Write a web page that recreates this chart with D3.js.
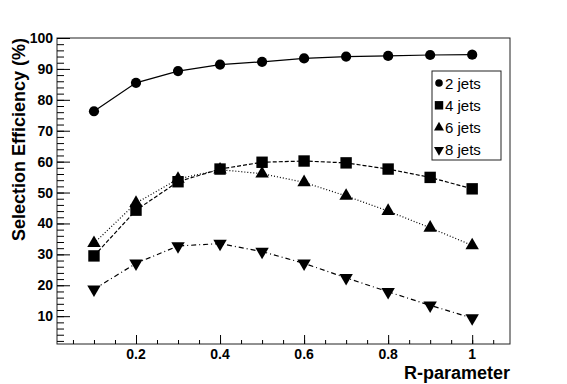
<!DOCTYPE html>
<html>
<head>
<meta charset="utf-8">
<script src="https://cdn.jsdelivr.net/npm/d3@7"></script>
<style>
  body { margin: 0; background: #fff; }
  text { font-family: "Liberation Sans", Arial, sans-serif; }
</style>
</head>
<body>
<svg width="567" height="384"></svg>
<script>
// R-parameter values and efficiencies per jet multiplicity
var rValues = [0.1, 0.2, 0.3, 0.4, 0.5, 0.6, 0.7, 0.8, 0.9, 1.0];
var jets2 = [76.3, 85.5, 89.3, 91.4, 92.3, 93.4, 94.0, 94.2, 94.5, 94.6];
var jets4 = [29.5, 44.3, 53.5, 57.6, 59.8, 60.2, 59.6, 57.6, 54.9, 51.2];
var jets6 = [33.6, 46.6, 54.4, 57.4, 56.1, 53.3, 48.9, 44.0, 38.6, 32.9];
var jets8 = [18.7, 27.1, 32.7, 33.5, 30.9, 27.1, 22.4, 17.9, 13.5, 9.4];
var seriesNames = ["2 jets", "4 jets", "6 jets", "8 jets"];
var xTicks = [0.2, 0.4, 0.6, 0.8, 1];
var yTicks = [10, 20, 30, 40, 50, 60, 70, 80, 90, 100];

var svg = d3.select("svg");
var padL = 57, padR = 510, padT = 38, padB = 344;

var x = d3.scaleLinear().domain([0.012, 1.09]).range([padL, padR]);
var y = d3.scaleLinear().domain([1, 100]).range([padB, padT]);

var series = [
  { name: seriesNames[0], values: jets2, symbol: d3.symbolCircle, size: 82, dash: null },
  { name: seriesNames[1], values: jets4, symbol: d3.symbolSquare, size: 130, dash: "4,2" },
  { name: seriesNames[2], values: jets6, symbol: d3.symbolTriangle, size: 78, dash: "1,2" },
  { name: seriesNames[3], values: jets8, symbol: d3.symbolTriangle, size: 78, dash: "5,3,1,3", flip: true }
];

// frame
svg.append("rect")
  .attr("x", padL).attr("y", padT)
  .attr("width", padR - padL).attr("height", padB - padT)
  .attr("fill", "none").attr("stroke", "#222").attr("stroke-width", 1);

// x axis (major + minor ticks)
var xMinor = d3.range(0.05, 1.09, 0.05);
svg.append("g")
  .attr("transform", "translate(0," + padB + ")")
  .call(d3.axisTop(x).tickValues(xMinor).tickSize(4).tickFormat(""))
  .call(function(g) { g.select(".domain").remove(); });
svg.append("g")
  .attr("transform", "translate(0," + padB + ")")
  .call(d3.axisTop(x).tickValues(xTicks).tickSize(9).tickFormat(""))
  .call(function(g) { g.select(".domain").remove(); });
svg.selectAll(".xlab")
  .data(xTicks)
  .enter().append("text")
  .attr("x", function(d) { return x(d); })
  .attr("y", 359)
  .attr("text-anchor", "middle")
  .attr("font-size", 14)
  .attr("font-weight", "bold")
  .text(function(d) { return d; });

// y axis
var yMinor = d3.range(2, 100, 2);
svg.append("g")
  .attr("transform", "translate(" + padL + ",0)")
  .call(d3.axisRight(y).tickValues(yMinor).tickSize(7).tickFormat(""))
  .call(function(g) { g.select(".domain").remove(); });
svg.append("g")
  .attr("transform", "translate(" + padL + ",0)")
  .call(d3.axisRight(y).tickValues(yTicks).tickSize(13).tickFormat(""))
  .call(function(g) { g.select(".domain").remove(); });
svg.selectAll(".ylab")
  .data(yTicks)
  .enter().append("text")
  .attr("x", 53)
  .attr("y", function(d) { return y(d) + 5; })
  .attr("text-anchor", "end")
  .attr("font-size", 14)
  .attr("font-weight", "bold")
  .text(function(d) { return d; });

// axis titles
svg.append("text")
  .attr("x", padR).attr("y", 379)
  .attr("text-anchor", "end")
  .attr("font-size", 18).attr("font-weight", "bold")
  .text("R-parameter");
svg.append("text")
  .attr("transform", "translate(25," + padT + ") rotate(-90)")
  .attr("text-anchor", "end")
  .attr("font-size", 18).attr("font-weight", "bold")
  .text("Selection Efficiency (%)");

// lines and markers
var line = d3.line()
  .x(function(d, i) { return x(rValues[i]); })
  .y(function(d) { return y(d); });

series.forEach(function(s) {
  svg.append("path")
    .datum(s.values)
    .attr("d", line)
    .attr("fill", "none")
    .attr("stroke", "#000")
    .attr("stroke-width", 1.2)
    .attr("stroke-dasharray", s.dash);
  svg.selectAll(null)
    .data(s.values)
    .enter().append("path")
    .attr("d", d3.symbol().type(s.symbol).size(s.size))
    .attr("transform", function(d, i) {
      return "translate(" + x(rValues[i]) + "," + y(d) + ")" + (s.flip ? " rotate(180)" : "");
    })
    .attr("fill", "#000");
});

// legend
var lg = svg.append("g").attr("transform", "translate(432,71)");
lg.append("rect")
  .attr("width", 69).attr("height", 89)
  .attr("fill", "#fff").attr("stroke", "#222");
series.forEach(function(s, i) {
  var cy = 12 + i * 22.3;
  lg.append("path")
    .attr("d", d3.symbol().type(s.symbol).size(s.size * 0.55))
    .attr("transform", "translate(7," + cy + ")" + (s.flip ? " rotate(180)" : ""))
    .attr("fill", "#000");
  lg.append("text")
    .attr("x", 13).attr("y", cy + 5.5)
    .attr("font-size", 15)
    .text(s.name);
});
</script>
</body>
</html>
